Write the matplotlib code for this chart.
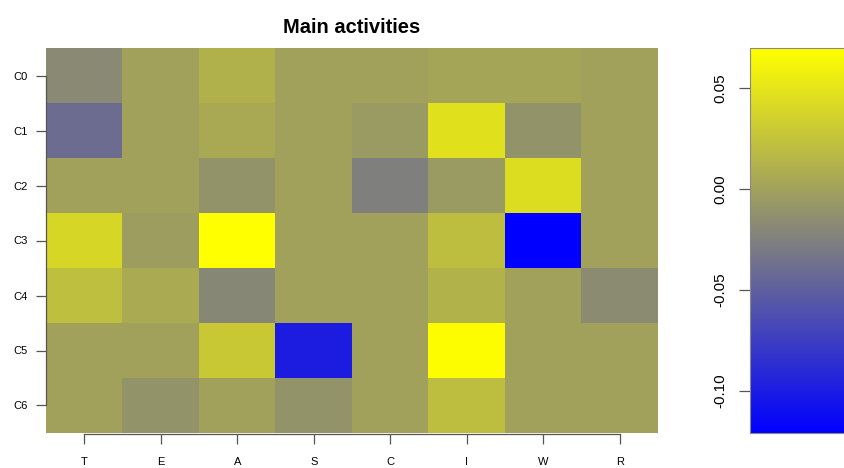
import matplotlib
matplotlib.use("Agg")
import matplotlib.pyplot as plt
from matplotlib.colors import LinearSegmentedColormap
import numpy as np

plt.rcParams["font.family"] = ["Liberation Sans", "DejaVu Sans"]

columns = ["T", "E", "A", "S", "C", "I", "W", "R"]
rows = ["C0", "C1", "C2", "C3", "C4", "C5", "C6"]

# one list per row, values
c0 = [-0.018, 0.000, 0.012, 0.000, 0.000, 0.003, 0.003, 0.000]
c1 = [-0.039, 0.000, 0.006, 0.000, -0.005, 0.047, -0.010, 0.000]
c2 = [0.000, 0.000, -0.010, 0.000, -0.025, -0.005, 0.044, 0.000]
c3 = [0.040, -0.003, 0.070, 0.000, 0.000, 0.021, -0.121, 0.000]
c4 = [0.022, 0.007, -0.019, 0.000, 0.000, 0.013, 0.000, -0.016]
c5 = [0.000, 0.000, 0.029, -0.099, 0.000, 0.069, 0.000, 0.000]
c6 = [0.000, -0.010, 0.000, -0.010, 0.000, 0.021, 0.000, 0.000]

cbar_ticks = [-0.10, -0.05, 0.00, 0.05]

data = np.array([c0, c1, c2, c3, c4, c5, c6])
cmap = LinearSegmentedColormap.from_list("bgy", ["#0000ff", "#7f7f7f", "#ffff00"], N=256)
axis_col = "#555555"

fig = plt.figure(figsize=(8.44, 4.68), dpi=100)
ax = fig.add_axes([46 / 844, 1 - 433 / 468, 612 / 844, 385 / 468])
im = ax.imshow(data, cmap=cmap, vmin=data.min(), vmax=data.max(),
               aspect="auto", interpolation="nearest")

ax.set_xticks(range(len(columns)))
ax.set_xticklabels(columns)
ax.set_yticks(range(len(rows)))
ax.set_yticklabels(rows)
for side in ["top", "right"]:
    ax.spines[side].set_visible(False)
ax.spines["left"].set_bounds(0, len(rows) - 1)
ax.spines["bottom"].set_bounds(0, len(columns) - 1)
ax.spines["bottom"].set_position(("outward", 1))
for side in ["left", "bottom"]:
    ax.spines[side].set_color(axis_col)
    ax.spines[side].set_linewidth(0.9)
ax.tick_params(axis="y", length=7, width=0.9, color=axis_col, labelsize=8, pad=6)
ax.tick_params(axis="x", length=7, width=0.9, color=axis_col, labelsize=8, pad=9)
ax.set_title("Main activities", fontsize=14.5, fontweight="bold", pad=11)

cax = fig.add_axes([750 / 844, 1 - 433 / 468, 130 / 844, 385 / 468])
cb = fig.colorbar(im, cax=cax, ticks=cbar_ticks)
cb.outline.set_edgecolor("#888888")
cb.outline.set_linewidth(0.8)
cax.yaxis.set_ticks_position("left")
cax.set_yticklabels([f"{t:.2f}" for t in cbar_ticks], rotation=90, va="center")
cax.tick_params(axis="y", length=8, width=0.9, color=axis_col, labelsize=11, pad=8)

fig.savefig("out.png", dpi=100)
